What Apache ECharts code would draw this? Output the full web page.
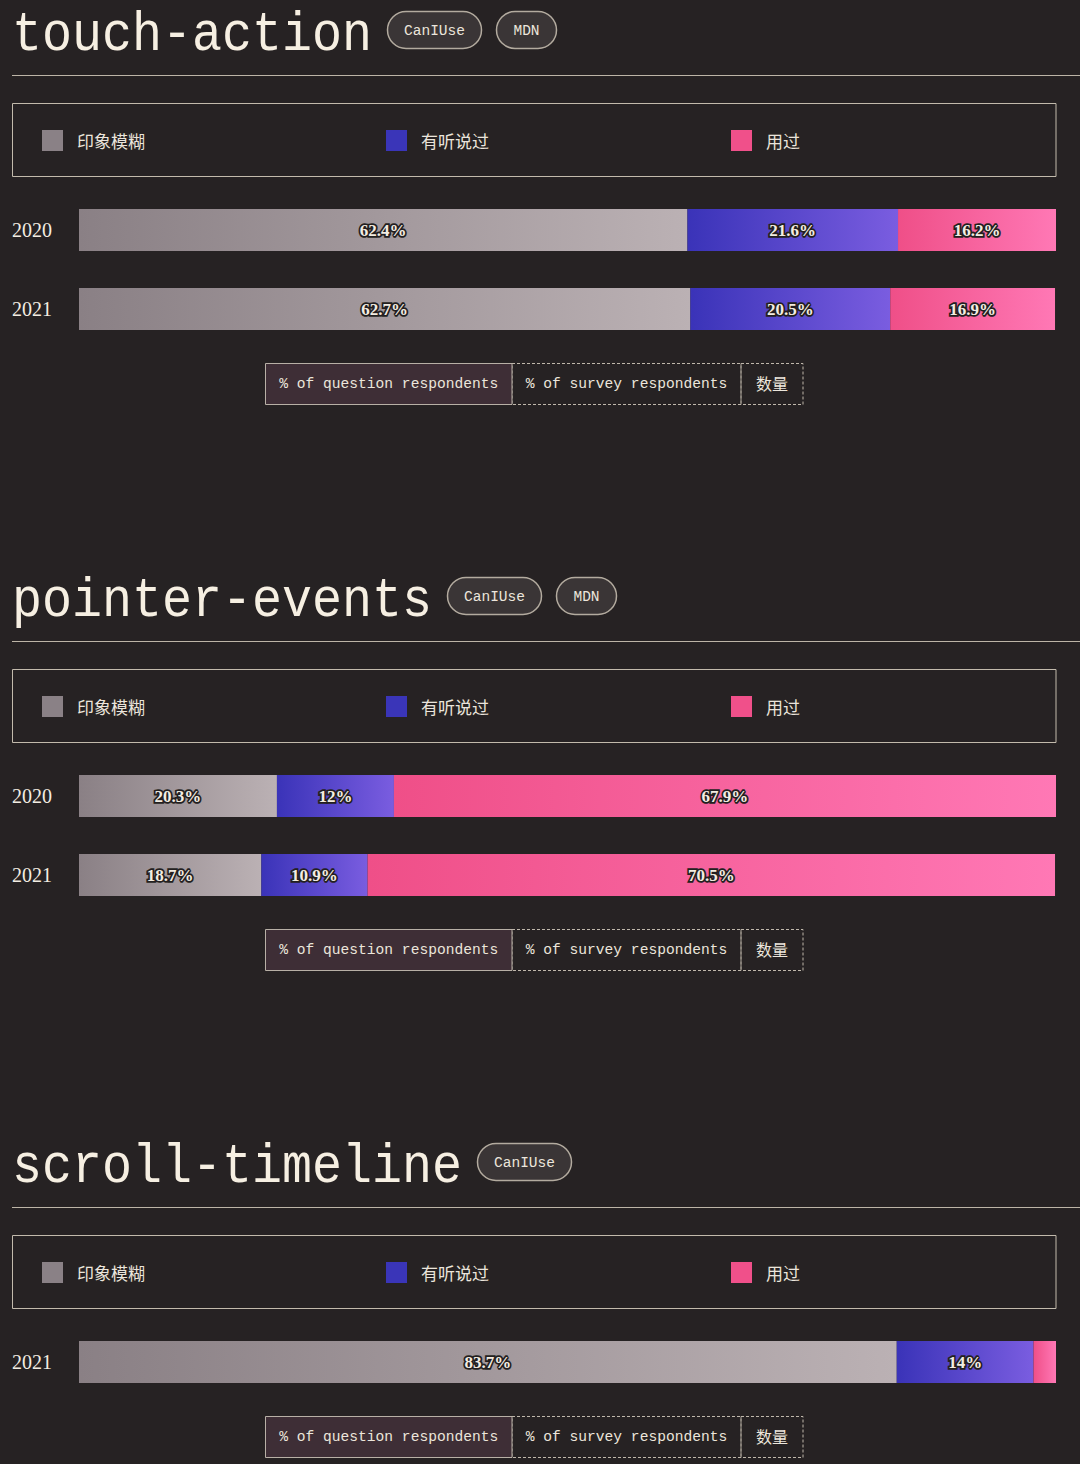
<!DOCTYPE html>
<html><head><meta charset="utf-8">
<script src="https://cdn.jsdelivr.net/npm/echarts@6/dist/echarts.min.js"></script>
<style>html,body{margin:0;padding:0;background:#262223;}#c{width:1080px;height:1464px;}</style>
</head><body><div id="c"></div>
<script>
const seriesNames = ['印象模糊', '有听说过', '用过'];
const sectionTitles = ['touch-action', 'pointer-events', 'scroll-timeline'];
const sectionLinks = [['CanIUse', 'MDN'], ['CanIUse', 'MDN'], ['CanIUse']];
const toggleLabels = ['% of question respondents', '% of survey respondents', '数量'];

const touchYears = ['2020', '2021'];
const touchVague = [62.4, 62.7];
const touchHeard = [21.6, 20.5];
const touchUsed = [16.2, 16.9];

const pointerYears = ['2020', '2021'];
const pointerVague = [20.3, 18.7];
const pointerHeard = [12, 10.9];
const pointerUsed = [67.9, 70.5];

const scrollYears = ['2021'];
const scrollVague = [83.7];
const scrollHeard = [14];
const scrollUsed = [2.3];

const sections = [
  { years: touchYears, vals: [touchVague, touchHeard, touchUsed] },
  { years: pointerYears, vals: [pointerVague, pointerHeard, pointerUsed] },
  { years: scrollYears, vals: [scrollVague, scrollHeard, scrollUsed] }
];
const offsets = [0, 566, 1132];
const legendColors = ['#8a8186', '#3a35b8', '#f0508a'];
const gradStops = [
  ['#8a8085', '#bbb1b4'],
  ['#3a33b8', '#7a5de0'],
  ['#ef4f88', '#ff78b5']
];
const legendLefts = [42, 386, 731];
const cream = '#f3ede2';

const grids = [], xAxes = [], yAxes = [], series = [], legends = [], graphics = [];

sections.forEach((sec, i) => {
  const o = offsets[i];
  const n = sec.years.length;
  const firstBarTop = 209 + o;
  grids.push({ left: 79, width: 977, top: firstBarTop + 21 - 39.5, height: n * 79 });
  xAxes.push({ type: 'value', gridIndex: i, min: 0, max: v => v.max, show: false });
  yAxes.push({
    type: 'category', gridIndex: i, data: sec.years, inverse: true,
    axisLine: { show: false }, axisTick: { show: false }, splitLine: { show: false },
    axisLabel: { align: 'left', margin: 67, color: cream, fontSize: 20, fontFamily: 'Liberation Serif' }
  });
  seriesNames.forEach((name, k) => {
    series.push({
      type: 'bar', name, stack: 'st' + i, xAxisIndex: i, yAxisIndex: i, barWidth: 42,
      data: sec.vals[k],
      itemStyle: {
        color: { type: 'linear', x: 0, y: 0, x2: 1, y2: 0,
          colorStops: [{ offset: 0, color: gradStops[k][0] }, { offset: 1, color: gradStops[k][1] }] }
      },
      emphasis: { disabled: true },
      label: {
        show: true, position: 'inside',
        formatter: p => (p.value >= 5 ? p.value + '%' : ''),
        color: cream, fontSize: 17, fontWeight: 'bold', fontFamily: 'Liberation Serif',
        textBorderColor: '#231f20', textBorderWidth: 3.5
      }
    });
    legends.push({
      left: legendLefts[k], top: o + 130, padding: 0, itemWidth: 21, itemHeight: 21, icon: 'rect',
      data: [{ name, itemStyle: { color: legendColors[k] } }],
      textStyle: { color: '#ebe5dc', fontSize: 17, fontFamily: 'Noto Sans CJK SC', padding: [0, 0, 3, 9] }
    });
  });

  // title
  const title = sectionTitles[i];
  graphics.push({
    type: 'text', x: 12, y: o + 35, scaleX: 0.893, scaleY: 1,
    style: { text: title, x: 0, y: 0, fill: '#f6efe2', font: '56px "Liberation Mono"', verticalAlign: 'middle', align: 'left' }
  });
  // link buttons
  let bx = 12 + 30 * title.length + 15;
  sectionLinks[i].forEach(lbl => {
    const w = lbl === 'MDN' ? 60 : 94;
    graphics.push({
      type: 'rect', shape: { x: bx + 0.5, y: o + 11.5, width: w, height: 37, r: 18.5 },
      style: { fill: '#3a3536', stroke: '#b3ab9f', lineWidth: 1.5 }
    });
    graphics.push({
      type: 'text',
      style: { text: lbl, x: bx + w / 2 + 0.5, y: o + 30.5, fill: '#ece6dc', font: '14.5px "Liberation Mono"', align: 'center', verticalAlign: 'middle' }
    });
    bx += w + 15;
  });
  // separator line
  graphics.push({
    type: 'line', shape: { x1: 12, y1: o + 75.5, x2: 1080, y2: o + 75.5 },
    style: { stroke: '#bdb5a7', lineWidth: 1 }
  });
  // legend box
  graphics.push({
    type: 'rect', shape: { x: 12.5, y: o + 103.5, width: 1043.5, height: 73 },
    style: { fill: 'none', stroke: '#c2baac', lineWidth: 1 }
  });
  // toggle buttons
  const ty = firstBarTop + (n - 1) * 79 + 75;
  const tb = [[265.5, 246.5], [512, 229], [741, 62]];
  [2, 1].forEach(j => {
    graphics.push({
      type: 'rect', shape: { x: tb[j][0], y: ty + 0.5, width: tb[j][1], height: 41 },
      style: { fill: 'none', stroke: '#bfb7ab', lineWidth: 1, lineDash: [3, 2] }
    });
  });
  graphics.push({
    type: 'rect', shape: { x: tb[0][0], y: ty + 0.5, width: tb[0][1], height: 41 },
    style: { fill: '#3e2e36', stroke: '#b8b0a6', lineWidth: 1 }
  });
  toggleLabels.forEach((lbl, j) => {
    graphics.push({
      type: 'text',
      style: { text: lbl, x: tb[j][0] + tb[j][1] / 2, y: ty + (j === 2 ? 20 : 21), fill: '#ece6dc',
        font: (j === 2 ? '16px "Noto Sans CJK SC"' : '14.6px "Liberation Mono"'), align: 'center', verticalAlign: 'middle' }
    });
  });
});

const chart = echarts.init(document.getElementById('c'), null, { renderer: 'svg' });
chart.setOption({
  backgroundColor: '#262223',
  animation: false,
  grid: grids, xAxis: xAxes, yAxis: yAxes, series, legend: legends,
  graphic: graphics
});
</script></body></html>
